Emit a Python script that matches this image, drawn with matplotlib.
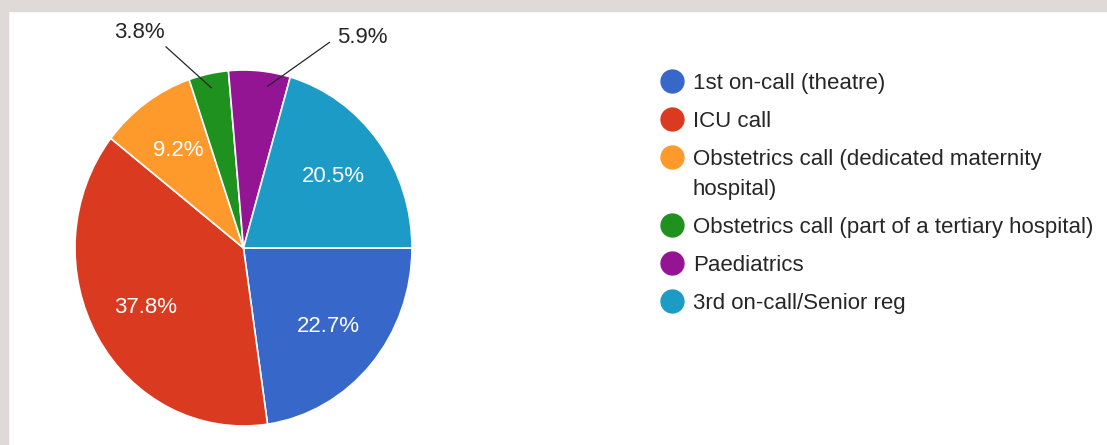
import matplotlib
matplotlib.use("Agg")
import matplotlib.pyplot as plt
import matplotlib.patches as mpatches
import numpy as np

# ── Data ───────────────────────────────────────────────────────────────────────
CATEGORIES = [
    "1st on-call (theatre)",
    "ICU call",
    "Obstetrics call (dedicated maternity\nhospital)",
    "Obstetrics call (part of a tertiary hospital)",
    "Paediatrics",
    "3rd on-call/Senior reg",
]
SHARES = [22.7, 37.8, 9.2, 3.8, 5.9, 20.5]
PCT_LABELS = ["22.7%", "37.8%", "9.2%", "3.8%", "5.9%", "20.5%"]

PALETTE = ["#3767C9", "#DA3A1F", "#FD9A2B", "#1E911F", "#941594", "#1B9BC5"]
BORDER = "#DFDAD7"
TEXT_C = "#262626"
FONT = ["Liberation Sans", "DejaVu Sans"]
FS = 16

# small slices get an outside label with a leader line
# (label pos, line end, text align, anchor angle shift in deg)
OUTSIDE = {
    3: ((-0.615, 1.21), (-0.46, 1.13), "center", 0.0),
    4: ((0.555, 1.185), (0.51, 1.155), "left", -3.5),
}

W, H = 1107, 445
fig = plt.figure(figsize=(W / 100, H / 100), dpi=100)
fig.patch.set_facecolor("white")

# grey frame strips (top and left) of the screenshot
fig.patches.append(mpatches.Rectangle((0, 1 - 10.5 / H), 1, 10.5 / H,
                                      transform=fig.transFigure, color=BORDER, zorder=0))
fig.patches.append(mpatches.Rectangle((0, 0), 8 / W, 1,
                                      transform=fig.transFigure, color=BORDER, zorder=0))

# ── Pie ────────────────────────────────────────────────────────────────────────
ax = fig.add_axes([75 / W, 19 / H, 337 / W, 356 / H])
wedges, _ = ax.pie(
    SHARES, colors=PALETTE, startangle=0, counterclock=False,
    wedgeprops=dict(edgecolor="white", linewidth=1.2),
)
ax.set_aspect("auto")
ax.set_xlim(-1, 1)
ax.set_ylim(-1, 1)
ax.axis("off")

for i, (w, lab) in enumerate(zip(wedges, PCT_LABELS)):
    mid = (w.theta1 + w.theta2) / 2
    if i in OUTSIDE:
        (tx, ty), (lx, ly), ha, shift = OUTSIDE[i]
        a = np.deg2rad(mid + shift)
        px, py = 0.92 * np.cos(a), 0.92 * np.sin(a)
        ax.plot([px, lx], [py, ly], color=TEXT_C, lw=0.9, clip_on=False)
        ax.text(tx, ty, lab, ha=ha, va="center", fontsize=FS,
                color=TEXT_C, family=FONT, clip_on=False)
    else:
        a = np.deg2rad(mid)
        r = 0.67
        ax.text(r * np.cos(a), r * np.sin(a), lab, ha="center", va="center",
                fontsize=FS, color="white", family=FONT)

# ── Legend (drawn by hand: marker sits on the first line of wrapped labels) ───
MARK_X, TEXT_X = 672, 693     # pixels
ROW_STEP, WRAP_STEP = 38, 30
y = 81
for color, label in zip(PALETTE, CATEGORIES):
    fig.add_artist(plt.Line2D([MARK_X / W], [1 - y / H], transform=fig.transFigure,
                              marker="o", ls="none", markersize=16.5,
                              markerfacecolor=color, markeredgecolor=color))
    for k, line in enumerate(label.split("\n")):
        fig.text(TEXT_X / W, 1 - (y + k * WRAP_STEP) / H, line, ha="left",
                 va="center_baseline", fontsize=FS, color=TEXT_C, family=FONT)
    y += ROW_STEP + WRAP_STEP * label.count("\n")

fig.savefig("out.png", dpi=100, facecolor="white")
